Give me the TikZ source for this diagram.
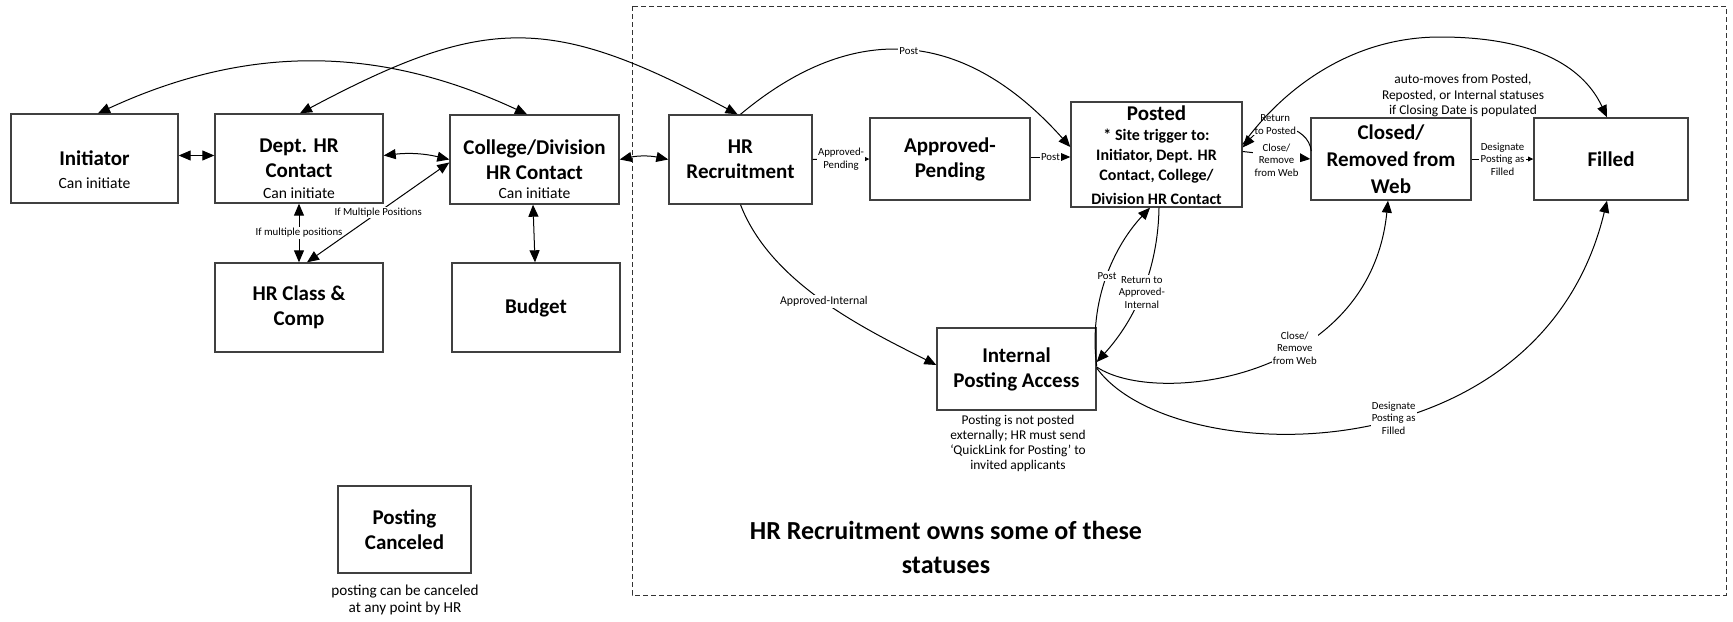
\documentclass[tikz,border=0pt]{standalone}
\usepackage{fontspec}
\setmainfont{Carlito}
\usetikzlibrary{arrows.meta}
\newcommand\ttlfnt{\fontsize{10.5pt}{12.5pt}\selectfont\bfseries}
\newcommand\subfnt{\fontsize{7.8pt}{9pt}\selectfont}
\newcommand\lblfnt{\fontsize{5.4pt}{6.2pt}\selectfont}
\newcommand\notefnt{\fontsize{6.7pt}{7.6pt}\selectfont}
\newcommand\cnotefnt{\fontsize{7.6pt}{8.5pt}\selectfont}
\newcommand\psfnt{\fontsize{8pt}{10pt}\selectfont\bfseries}
\newcommand\bigfnt{\fontsize{13pt}{17pt}\selectfont\bfseries}
\tikzset{
 box/.style={draw=black!75, line width=0.7pt, inner sep=0pt, align=center, font=\ttlfnt},
 subtxt/.style={font=\subfnt, inner sep=0pt},
 conn/.style={line width=0.5pt, draw=black},
 arr/.style={-{Triangle[length=6pt,width=5pt]}},
 arrs/.style={{Triangle[length=6pt,width=5pt]}-{Triangle[length=6pt,width=5pt]}},
 arrtiny/.style={-{Triangle[length=2.6pt,width=2.4pt]}},
 elab/.style={font=\lblfnt, fill=white, inner sep=0.6pt, align=center},
 note/.style={font=\notefnt, align=center, inner sep=0pt},
}
\begin{document}
\begin{tikzpicture}[x=0.5pt,y=-0.5pt]
\path[use as bounding box, fill=white] (0,0) rectangle (1733,621);
\draw[black!80, line width=0.5pt, dash pattern=on 2.5pt off 1.5pt] (632,6) rectangle (1726,595);

% boxes
\node[box, minimum width=83.5pt, minimum height=44.5pt] (init) at (94.5,158.5) {Initiator};
\node[subtxt] (initS) at (94.5,183) {Can initiate};
\node[box, minimum width=84pt, minimum height=44.5pt] (dept) at (299,158.5) {Dept. HR\\Contact};
\node[subtxt] (deptS) at (299,193) {Can initiate};
\node[box, minimum width=84.5pt, minimum height=44.5pt] (coll) at (534.5,159.5) {College/Division\\HR Contact};
\node[subtxt] (collS) at (534.5,193) {Can initiate};
\node[box, minimum width=71.5pt, minimum height=44.5pt] (hrr) at (740.5,159.5) {HR\\Recruitment};
\node[box, minimum width=80pt, minimum height=41pt] (app) at (950,159) {Approved-\\Pending};
\node[box, minimum width=85.5pt, minimum height=52.5pt] (posted) at (1156.5,154.5) {};
\node[font=\ttlfnt, inner sep=0pt] (postedT) at (1156.5,113) {Posted};
\node[font=\psfnt, align=center, inner sep=0pt] (postedS) at (1156.5,167) {* Site trigger to:\\Initiator, Dept. HR\\Contact, College/\\[2pt]Division HR Contact};
\node[box, font=\fontsize{10.5pt}{13.5pt}\selectfont\bfseries, minimum width=80pt, minimum height=41pt] (closed) at (1391,159) {Closed/\\Removed from\\Web};
\node[box, minimum width=77pt, minimum height=41pt] (filled) at (1611,159) {Filled};
\node[box, minimum width=84pt, minimum height=44.5pt] (hrc) at (299,307.5) {HR Class \&\\Comp};
\node[box, minimum width=84pt, minimum height=44.5pt] (budget) at (536,307.5) {Budget};
\node[box, minimum width=79.5pt, minimum height=41pt] (ipa) at (1016.5,369) {Internal\\Posting Access};
\node[box, minimum width=66.5pt, minimum height=43.5pt] (cancel) at (404.5,529.5) {Posting\\Canceled};

% notes
\node[note] (autoN) at (1463,95.5) {auto-moves from Posted,\\Reposted, or Internal statuses\\if Closing Date is populated};
\node[note] (ipaN) at (1018,443.5) {Posting is not posted\\externally; HR must send\\‘QuickLink for Posting’ to\\invited applicants};
\node[font=\cnotefnt, align=center, inner sep=0pt] (cancelN) at (405,599.5) {posting can be canceled\\at any point by HR};
\node[font=\bigfnt, align=center, inner sep=0pt] (own) at (946,547) {HR Recruitment owns some of these\\statuses};

% connectors left group
\draw[conn,arrs] ([shift={(0,-3)}]init.east) -- ([shift={(0,-3)}]dept.west);
\draw[conn,arrs] ([shift={(0,-3)}]dept.east) to[bend left=10] (coll.west);
\draw[conn,arrs] (coll.east) to[bend left=12] (hrr.west);
\draw[conn,arrs] ([shift={(3.5,0)}]init.north) .. controls (247,44.5) and (378,45) .. ([shift={(-7.5,0)}]coll.north);
\draw[conn,arrs] ([shift={(1,0)}]dept.north) .. controls (486,14.4) and (551,14.4) .. ([shift={(-3,0)}]hrr.north);
\draw[conn,arrs] (dept.south) -- node[elab]{If multiple positions} (hrc.north);
\draw[conn,arrs] ([shift={(0,3)}]coll.west) -- node[elab]{If Multiple Positions} ([shift={(8,0)}]hrc.north);
\draw[conn,arrs] ([shift={(-1.5,0)}]coll.south) -- ([shift={(-1,0)}]budget.north);

% connectors HR region
\draw[conn,arr] (hrr.north) .. controls (855,18.7) and (965,29.3) .. node[elab]{Post} ([shift={(0,-7.5)}]posted.west);
\draw[conn,arrtiny] (hrr.east) -- node[elab]{Approved-\\Pending} (app.west);
\draw[conn,arr] ([shift={(0,-2)}]app.east) -- node[elab]{Post} ([shift={(0,2.5)}]posted.west);
\draw[conn,arr] ([shift={(0,-3)}]posted.east) -- node[elab, shift={(0,5)}]{Close/\\Remove\\from Web} (closed.west);
\draw[conn,arr] ([shift={(1,-8)}]closed.west) .. controls (1308,125) and (1268,118) .. node[elab, shift={(-10,-4)}]{Return\\to Posted} ([shift={(0,-7)}]posted.east);
\draw[conn,arr] ([shift={(0,-10)}]posted.east) .. controls (1282,90) and (1350,37) .. (1440,37) .. controls (1540,37) and (1585,70) .. ([shift={(-4,0)}]filled.north);
\draw[conn,arrtiny] (closed.east) -- node[elab]{Designate\\Posting as\\Filled} (filled.west);
\draw[conn,arr] (hrr.south) .. controls (771,284) and (867,330) .. node[elab, font=\fontsize{5.9pt}{6.5pt}\selectfont]{Approved-Internal} ([shift={(0,-4)}]ipa.west);
\draw[conn,arr] ([shift={(0,-3)}]ipa.east) .. controls (1088,300) and (1115,245) .. node[elab]{Post} ([shift={(-6.5,0)}]posted.south);
\draw[conn,arr] ([shift={(2.5,0)}]posted.south) .. controls (1158,270) and (1135,320) .. node[elab]{Return to\\Approved-\\Internal} ([shift={(0,-7)}]ipa.east);
\draw[conn,arr] ([shift={(0,-2)}]ipa.east) .. controls (1156,407) and (1370,380) .. node[elab, pos=0.6]{Close/\\Remove\\from Web} ([shift={(-3,0)}]closed.south);
\draw[conn,arr] ([shift={(0,-1)}]ipa.east) .. controls (1170,470) and (1540,480) .. node[elab, pos=0.56]{Designate\\Posting as\\Filled} ([shift={(-4,0)}]filled.south);
\end{tikzpicture}
\end{document}
